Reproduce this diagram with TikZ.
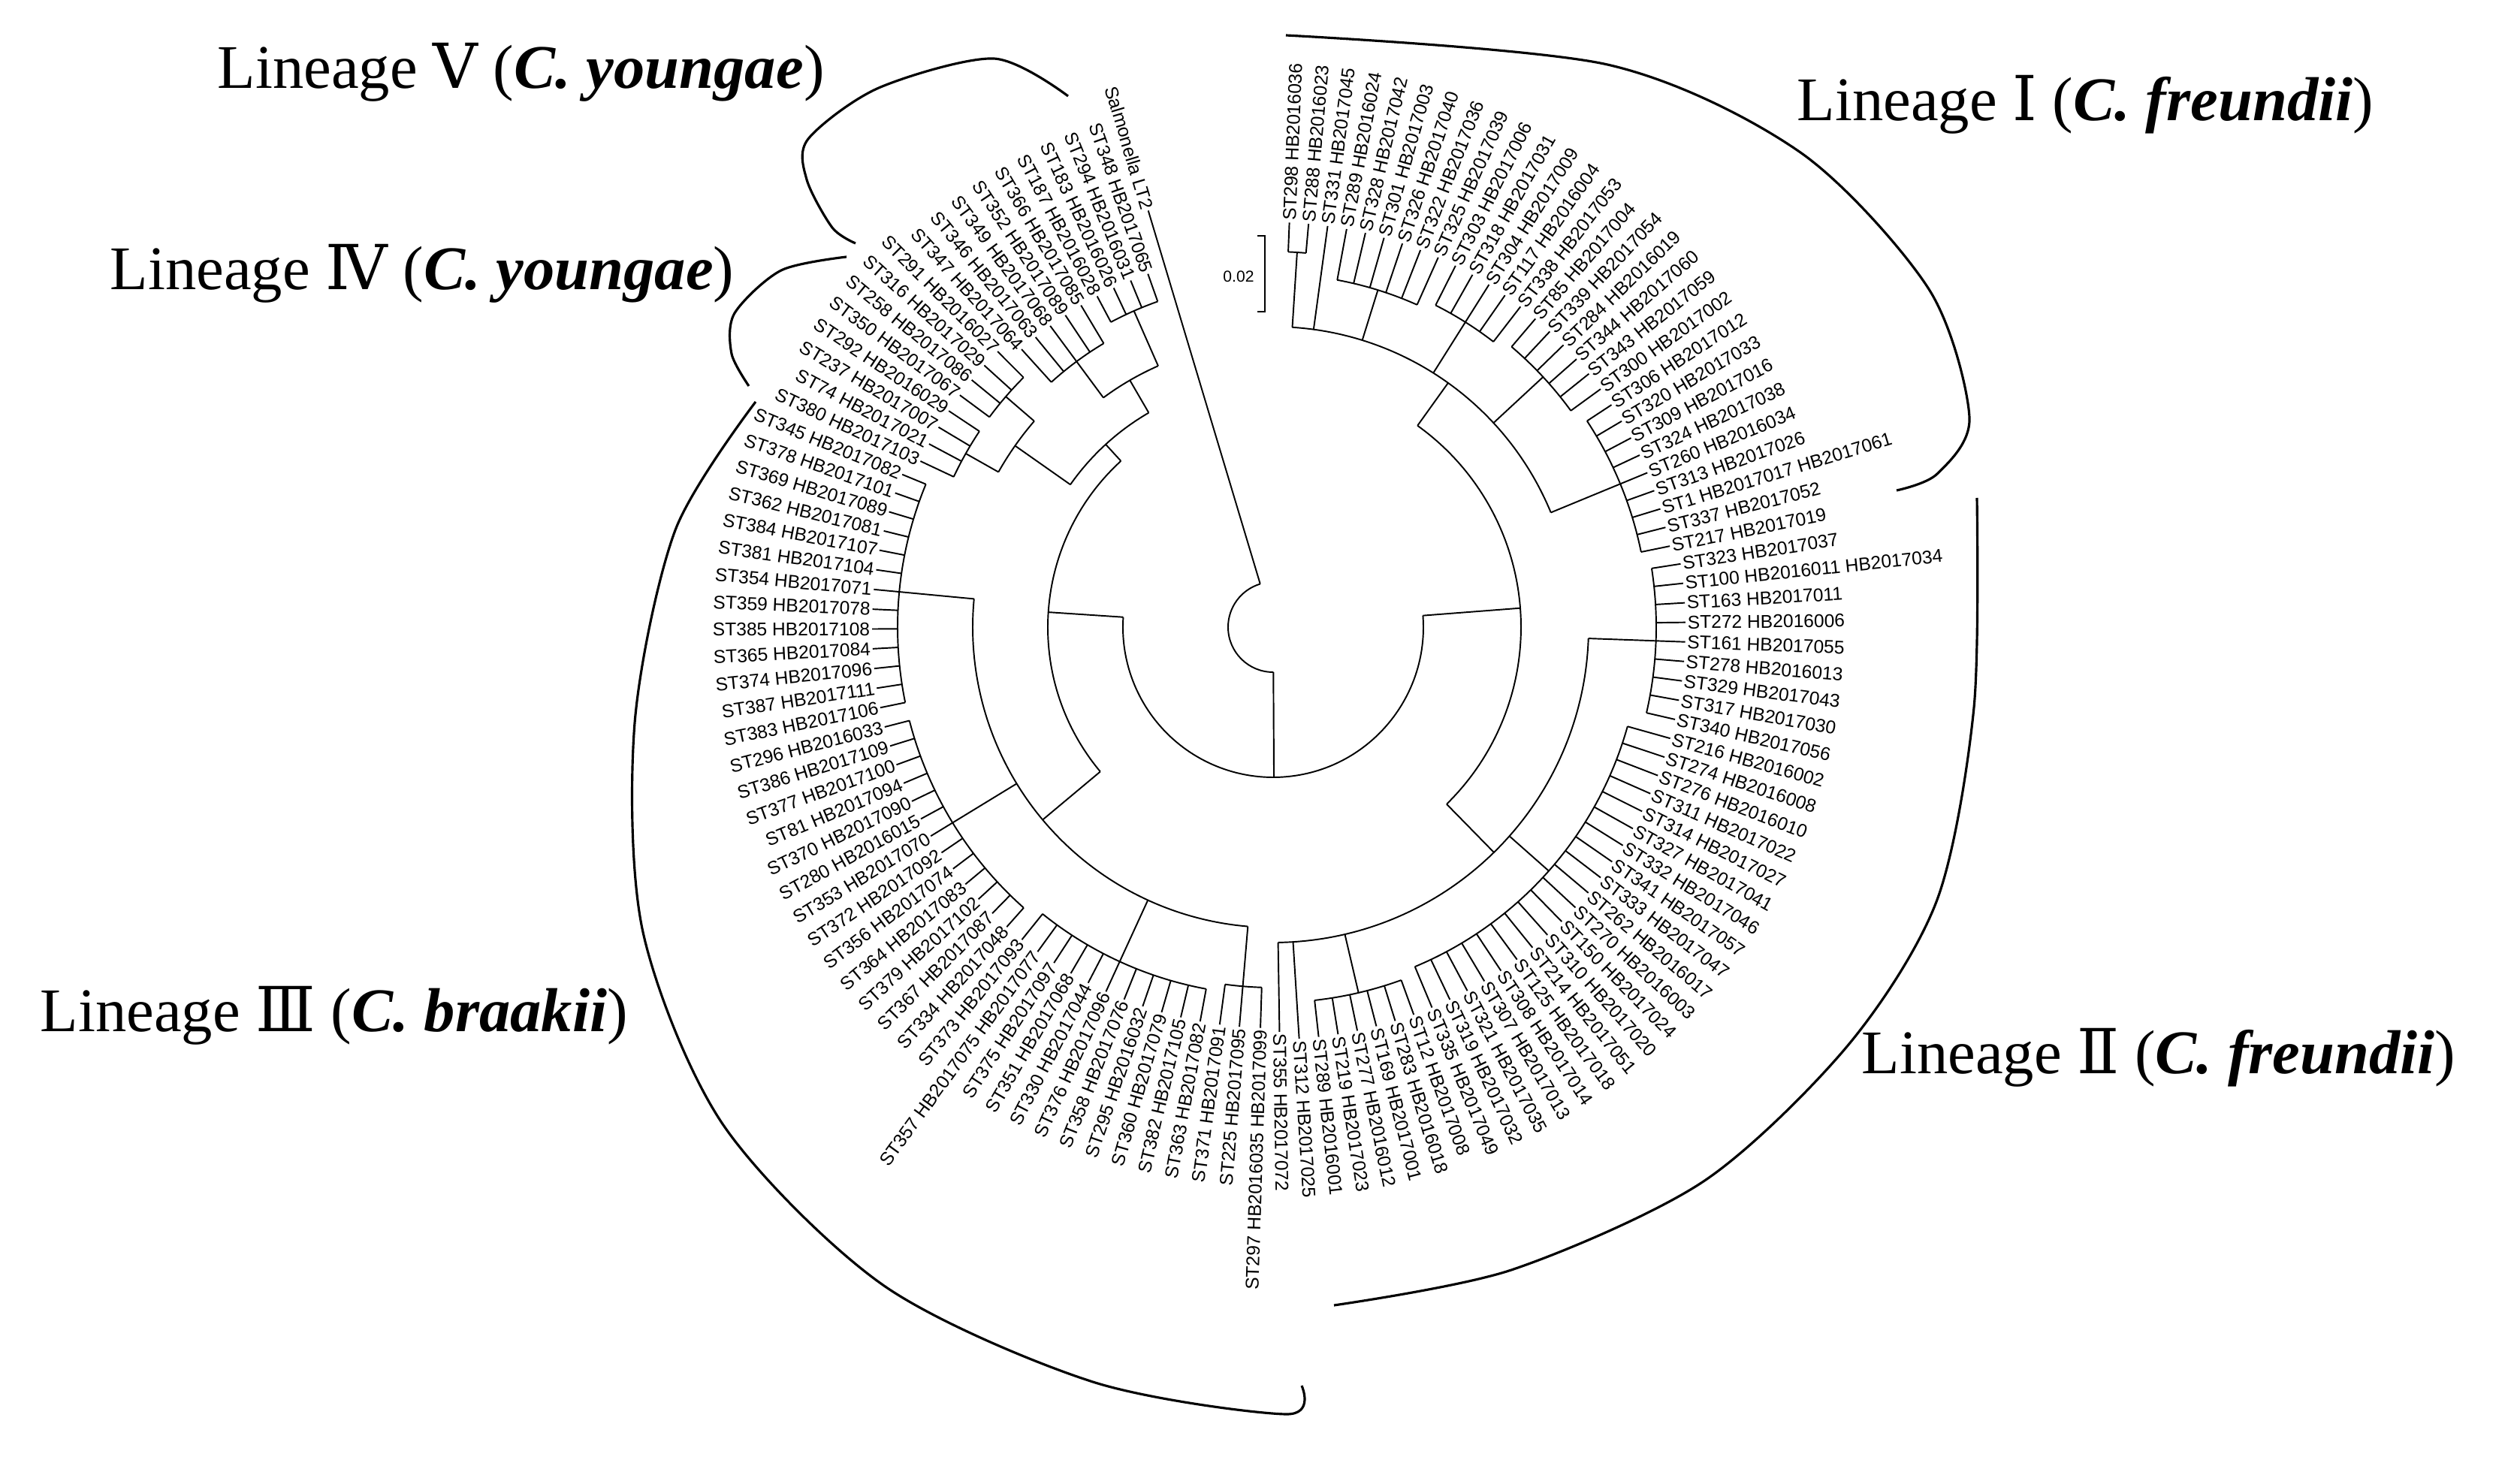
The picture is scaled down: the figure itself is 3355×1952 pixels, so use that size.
\documentclass[tikz,border=0pt]{standalone}
\usepackage{fontspec}
\setmainfont{Liberation Serif}
\setsansfont{Liberation Sans}
\newfontfamily\numfont{DejaVu Serif}
\begin{document}
\begin{tikzpicture}[x=0.01cm,y=0.01cm,
  branch/.style={line width=0.55pt},
  bracketline/.style={line width=0.9pt},
  leaflabel/.style={font=\sffamily\fontsize{7.0}{7.5}\selectfont,inner sep=0.6pt},
  lineagelabel/.style={font=\fontsize{23.5}{28}\selectfont,inner sep=0pt,anchor=west}]
\useasboundingbox (-1695,-1117) rectangle (1660,835);
\newcommand{\carc}[3]{\draw[branch] (#2:#1) arc[start angle=#2,end angle=#3,radius={0.01cm*#1}];}
\newcommand{\rad}[3]{\draw[branch] (#1:#2) -- (#1:#3);}
% leaves: index / parent radius / tip radius / text
\foreach \i/\pr/\tr/\t in {
1/500/545/{ST298 HB2016036},2/500/545/{ST288 HB2016023},3/400/545/{ST331 HB2017045},
4/470/545/{ST289 HB2016024},5/470/545/{ST328 HB2017042},6/470/545/{ST301 HB2017003},
7/470/545/{ST326 HB2017040},8/470/545/{ST322 HB2017036},9/470/545/{ST325 HB2017039},
10/480/545/{ST303 HB2017006},11/480/545/{ST318 HB2017031},12/480/545/{ST304 HB2017009},
13/480/545/{ST117 HB2016004},14/480/545/{ST338 HB2017053},15/490/545/{ST85 HB2017004},
16/490/545/{ST339 HB2017054},17/490/545/{ST284 HB2016019},18/490/545/{ST344 HB2017060},
19/490/545/{ST343 HB2017059},20/490/545/{ST300 HB2017002},21/500/545/{ST306 HB2017012},
22/500/545/{ST320 HB2017033},23/500/545/{ST309 HB2017016},24/500/545/{ST324 HB2017038},
25/500/545/{ST260 HB2016034},26/500/545/{ST313 HB2017026},27/500/545/{ST1 HB2017017 HB2017061},
28/500/545/{ST337 HB2017052},29/500/545/{ST217 HB2017019},
30/510/555/{ST323 HB2017037},31/510/555/{ST100 HB2016011 HB2017034},32/510/555/{ST163 HB2017011},
33/510/555/{ST272 HB2016006},34/510/555/{ST161 HB2017055},35/510/555/{ST278 HB2016013},
36/510/555/{ST329 HB2017043},37/510/555/{ST317 HB2017030},38/510/555/{ST340 HB2017056},
39/490/555/{ST216 HB2016002},40/490/555/{ST274 HB2016008},41/490/555/{ST276 HB2016010},
42/490/555/{ST311 HB2017022},43/490/555/{ST314 HB2017027},44/490/555/{ST327 HB2017041},
45/490/555/{ST332 HB2017046},46/490/555/{ST341 HB2017057},47/490/555/{ST333 HB2017047},
48/490/555/{ST262 HB2016017},49/490/555/{ST270 HB2016003},50/490/555/{ST150 HB2017024},
51/490/555/{ST310 HB2017020},52/490/555/{ST214 HB2017051},53/490/555/{ST125 HB2017018},
54/490/555/{ST308 HB2017014},55/490/555/{ST307 HB2017013},56/490/555/{ST321 HB2017035},
57/490/555/{ST319 HB2017032},58/490/555/{ST335 HB2017049},59/500/555/{ST12 HB2017008},
60/500/555/{ST283 HB2016018},61/500/555/{ST169 HB2017001},62/500/555/{ST277 HB2016012},
63/500/555/{ST219 HB2017023},64/500/555/{ST289 HB2016001},65/420/555/{ST312 HB2017025},
66/420/545/{ST355 HB2017072},
67/480/540/{ST297 HB2016035 HB2017099},68/480/540/{ST225 HB2017095},69/480/540/{ST371 HB2017091},
70/490/540/{ST363 HB2017082},71/490/540/{ST382 HB2017105},72/490/540/{ST360 HB2017079},
73/490/540/{ST295 HB2016032},74/490/540/{ST358 HB2017076},75/490/540/{ST376 HB2017096},
76/490/540/{ST330 HB2017044},77/490/540/{ST351 HB2017068},78/490/540/{ST375 HB2017097},
79/490/540/{ST357 HB2017075 HB2017077},80/490/540/{ST373 HB2017093},
81/500/540/{ST334 HB2017048},82/500/540/{ST367 HB2017087},83/500/540/{ST379 HB2017102},
84/500/540/{ST364 HB2017083},85/500/540/{ST356 HB2017074},86/500/540/{ST372 HB2017092},
87/500/540/{ST353 HB2017070},88/500/540/{ST280 HB2016015},89/500/540/{ST370 HB2017090},
90/500/540/{ST81 HB2017094},91/500/540/{ST377 HB2017100},92/500/540/{ST386 HB2017109},
93/500/540/{ST296 HB2016033},94/500/540/{ST383 HB2017106},95/500/540/{ST387 HB2017111},
96/500/540/{ST374 HB2017096},97/500/540/{ST365 HB2017084},98/500/540/{ST385 HB2017108},
99/500/540/{ST359 HB2017078},100/500/540/{ST354 HB2017071},101/500/540/{ST381 HB2017104},
102/500/540/{ST384 HB2017107},103/500/540/{ST362 HB2017081},104/500/540/{ST369 HB2017089},
105/500/540/{ST378 HB2017101},106/500/540/{ST345 HB2017082},
107/470/525/{ST380 HB2017103},108/470/525/{ST74 HB2017021},109/470/525/{ST237 HB2017007},
110/470/525/{ST292 HB2016029},111/470/525/{ST350 HB2017067},112/470/525/{ST258 HB2017086},
113/470/525/{ST316 HB2017029},114/470/525/{ST291 HB2016027},
115/440/505/{ST347 HB2017064},116/440/505/{ST346 HB2017063},117/440/505/{ST349 HB2017068},
118/440/505/{ST352 HB2017089},119/440/505/{ST366 HB2017085},120/460/505/{ST187 HB2016028},
121/460/505/{ST183 HB2016026},122/460/505/{ST294 HB2016031},123/460/505/{ST348 HB2017065},
124/60/585/{Salmonella LT2}}{
  \pgfmathsetmacro\a{\i<=67 ? 87.7-2.72*(\i-1) : -92-2.83*(\i-67)}
  \pgfmathtruncatemacro\side{cos(\a)>=0 ? 1 : 0}
  \draw[branch] ({\a}:{\pr}) -- ({\a}:{\tr-6});
  \ifnum\side=1
    \node[leaflabel,anchor=west,rotate=\a] (L\i) at ({\a}:{\tr-6}) {\t};
  \else
    \node[leaflabel,anchor=east,rotate=\a+180] (L\i) at ({\a}:{\tr-6}) {\t};
  \fi
}
% cluster arcs
\carc{500}{87.7}{84.98}\carc{470}{79.54}{65.94}\carc{480}{63.22}{52.34}
\carc{490}{49.62}{36.02}\carc{500}{33.3}{11.54}
\carc{400}{86.34}{22.42}
\rad{86.34}{400}{500}\rad{72.74}{400}{470}\rad{57.78}{400}{480}\rad{42.82}{400}{490}\rad{22.42}{400}{500}
\carc{510}{8.82}{-12.94}\carc{490}{-15.66}{-67.34}\carc{500}{-70.06}{-83.66}
\carc{420}{-2.06}{-89.1}
\rad{-2.06}{420}{510}\rad{-41.5}{420}{490}\rad{-76.86}{420}{500}
\carc{330}{54.38}{-45.58}\rad{54.38}{330}{400}\rad{-45.58}{330}{420}
\carc{480}{-91.82}{-97.66}\carc{490}{-100.49}{-128.79}\carc{500}{-131.62}{-165.58}\carc{500}{-168.41}{-202.37}
\carc{400}{-94.83}{-185.39}
\rad{-94.83}{400}{480}\rad{-114.64}{400}{490}\rad{-148.6}{400}{500}\rad{-185.39}{400}{500}
\carc{470}{-205.2}{-213.69}\carc{470}{-216.52}{-225.01}\carc{420}{-209.45}{-220.77}
\rad{-209.45}{420}{470}\rad{-220.77}{420}{470}
\carc{440}{-227.84}{-239.16}\carc{460}{-241.99}{-250.48}\carc{380}{-233.5}{-246.24}
\rad{-233.5}{380}{440}\rad{-246.24}{380}{460}
\carc{330}{-215.1}{-239.87}\rad{-215.1}{330}{420}\rad{-239.87}{330}{380}
\carc{300}{-140.1}{-227.5}\rad{-140.1}{300}{400}\rad{-227.5}{300}{330}
\carc{200}{4.4}{-183.8}\rad{4.4}{200}{330}\rad{-183.8}{200}{300}
\carc{60}{-89.7}{-253.31}\rad{-89.7}{60}{200}
% scale bar
\draw[branch] (-21,521) -- (-11,521) -- (-11,420) -- (-21,420);
\node[font=\sffamily\fontsize{6}{7}\selectfont,inner sep=0pt] (scale) at (-46,467) {0.02};
% lineage brackets
\draw[bracketline] plot[smooth] coordinates {(17,788) (445,749) (702,632) (873,450) (927,279) (884,204) (830,182)};
\draw[bracketline] plot[smooth] coordinates {(937,172) (933,-107) (884,-363) (766,-556) (573,-738) (317,-856) (81,-903)};
\draw[bracketline] plot[smooth] coordinates {(-689,300) (-796,129) (-850,-128) (-839,-406) (-732,-663) (-518,-877) (-240,-1005) (17,-1048) (38,-1010)};
\draw[bracketline] plot[smooth] coordinates {(-568,493) (-655,475) (-717,418) (-721,364) (-698,321)};
\draw[bracketline] plot[smooth] coordinates {(-273,707) (-372,757) (-525,718) (-619,650) (-621,596) (-587,532) (-556,511)};
% lineage labels
\node[lineagelabel] (linI) at (697,696) {Lineage {\numfont Ⅰ} (\textbf{\textit{C. freundii}})};
\node[lineagelabel] (linII) at (783,-573) {Lineage {\numfont Ⅱ} (\textbf{\textit{C. freundii}})};
\node[lineagelabel] (linIII) at (-1642,-517) {Lineage {\numfont Ⅲ} (\textbf{\textit{C. braakii}})};
\node[lineagelabel] (linIV) at (-1549,471) {Lineage {\numfont Ⅳ} (\textbf{\textit{C. youngae}})};
\node[lineagelabel] (linV) at (-1406,739) {Lineage {\numfont Ⅴ} (\textbf{\textit{C. youngae}})};
\end{tikzpicture}
\end{document}
